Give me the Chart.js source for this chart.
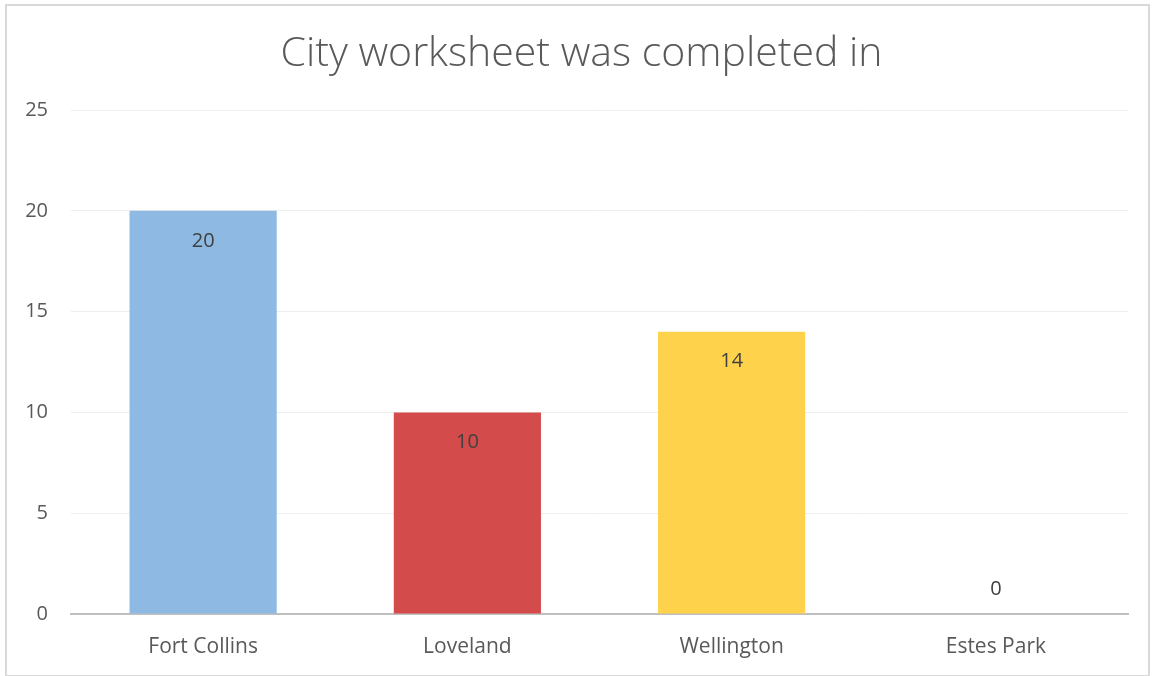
<!DOCTYPE html>
<html>
<head>
<meta charset="utf-8">
<script src="https://cdn.jsdelivr.net/npm/chart.js@4.4.1/dist/chart.umd.min.js"></script>
<style>
  html, body { margin: 0; padding: 0; background: #fff; }
  #wrap { position: relative; width: 1153px; height: 676px; }
  #frame {
    position: absolute; left: 5px; top: 4px; width: 1141px; height: 669px;
    border: 2px solid #D9D9D9; pointer-events: none;
  }
</style>
</head>
<body>
<div id="wrap">
  <canvas id="cityChart"></canvas>
  <div id="frame"></div>
</div>
<script>
  const titleText = "City worksheet was completed in";
  const cities = ["Fort Collins", "Loveland", "Wellington", "Estes Park"];
  const counts = [20, 10, 14, 0];
  const barColors = ["#8DB9E2", "#D44B4B", "#FFD24C", "#A5A5A5"];
  const yTicks = [0, 5, 10, 15, 20, 25];

  const FONT = "'Open Sans', Lato, sans-serif";

  // value labels inside the top of each bar (above axis when zero)
  const valueLabels = {
    id: "valueLabels",
    afterDatasetsDraw(chart) {
      const ctx = chart.ctx;
      const meta = chart.getDatasetMeta(0);
      ctx.save();
      ctx.font = "20px " + FONT;
      ctx.fillStyle = "#404040";
      ctx.textAlign = "center";
      ctx.textBaseline = "middle";
      meta.data.forEach((bar, i) => {
        const v = counts[i];
        const y = v > 0 ? bar.y + 30 : bar.y - 25;
        ctx.fillText(String(v), bar.x, y);
      });
      ctx.restore();
    }
  };

  // title sits a little right of centre, like the original
  const chartTitle = {
    id: "chartTitle",
    afterDraw(chart) {
      const ctx = chart.ctx;
      ctx.save();
      ctx.font = "300 41px " + FONT;
      ctx.fillStyle = "#595959";
      ctx.textAlign = "center";
      ctx.textBaseline = "middle";
      ctx.fillText(titleText, chart.width / 2 + 5, 54);
      ctx.restore();
    }
  };

  new Chart(document.getElementById("cityChart"), {
    type: "bar",
    data: {
      labels: cities,
      datasets: [{
        data: counts,
        backgroundColor: barColors,
        borderWidth: 0,
        categoryPercentage: 1,
        barPercentage: 0.557
      }]
    },
    options: {
      responsive: true,
      maintainAspectRatio: false,
      animation: false,
      layout: { padding: { left: 0, right: 25, top: 110, bottom: 0 } },
      plugins: {
        legend: { display: false },
        tooltip: { enabled: false },
        title: { display: false }
      },
      scales: {
        x: {
          grid: { display: false, drawTicks: false },
          border: { color: "#BFBFBF", width: 2 },
          ticks: { color: "#595959", font: { family: FONT, size: 21 }, padding: 20 },
          afterFit(scale) { scale.height = 62; }
        },
        y: {
          min: 0,
          max: 25,
          afterBuildTicks(scale) { scale.ticks = yTicks.map(v => ({ value: v })); },
          grid: { color: "#EEEEEE", lineWidth: 1, drawTicks: false },
          border: { display: false },
          ticks: { color: "#595959", font: { family: FONT, size: 20 }, padding: 23 },
          afterFit(scale) { scale.width = 71; }
        }
      }
    },
    plugins: [valueLabels, chartTitle]
  });
</script>
</body>
</html>
